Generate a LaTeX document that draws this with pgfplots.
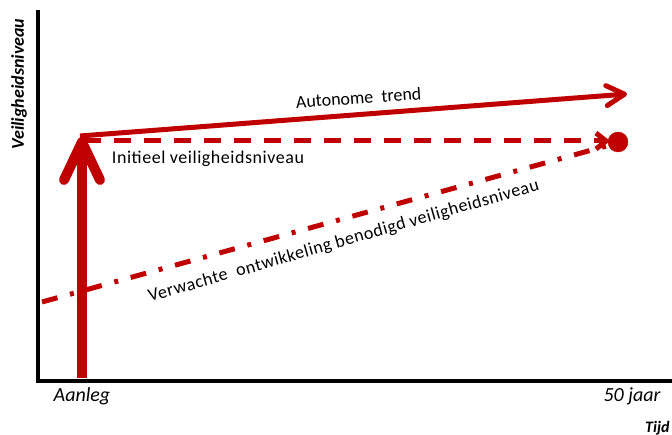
\documentclass[border=0pt]{standalone}
\usepackage{fontspec}
\setmainfont{Carlito}
\newfontfamily\spaced{Carlito}[LetterSpace=3]
\usepackage{pgfplots}
\pgfplotsset{compat=1.18}
\usetikzlibrary{arrows.meta}
\definecolor{dred}{RGB}{192,0,0}
\begin{document}
\begin{tikzpicture}[x=1pt,y=1pt]
\useasboundingbox (0,0) rectangle (672,434);
\clip (0,0) rectangle (672,434);
\begin{axis}[
  at={(38pt,53pt)}, anchor=south west,
  scale only axis, width=634pt, height=369pt,
  xmin=0, xmax=634, ymin=0, ymax=369,
  axis x line*=bottom, axis y line*=left,
  axis line style={-, line width=4pt, black, line cap=rect},
  xtick={44,594}, xticklabels={Aanleg,50 jaar},
  xticklabel style={font=\fontsize{20}{24}\selectfont\itshape, yshift=-3pt},
  ytick=\empty,
  major tick length=0pt,
  clip=false,
]
% vertical arrow (Aanleg)
\addplot[dred, line width=10pt, -{Straight Barb[length=38pt,width=36pt,round]}] coordinates {(44,3) (44,244)};
% autonome trend
\addplot[dred, line width=5pt, -{Straight Barb[length=18pt,width=20pt,round]}] coordinates {(42,245) (589,287)};
% initieel veiligheidsniveau (dashed)
\addplot[dred, line width=5pt, dash pattern=on 17pt off 13pt, -{Straight Barb[length=10pt,width=16pt]}] coordinates {(46,240) (572,240)};
% verwachte ontwikkeling (dash-dot)
\addplot[dred, line width=5pt, dash pattern=on 16pt off 13pt on 4pt off 13pt] coordinates {(4,79) (572,236)};
% end point
\addplot[dred, only marks, mark=*, mark size=10pt] coordinates {(580,239)};

\node[anchor=base, rotate=4, font=\fontsize{18}{20}\selectfont] at (axis cs:321,277) {Autonome\ \ trend};
\node[anchor=base, font=\fontsize{18}{20}\selectfont\spaced] at (axis cs:170,217) {Initieel veiligheidsniveau};
\node[anchor=base, rotate=16, font=\fontsize{18}{20}\selectfont\spaced] at (axis cs:307,135) {Verwachte\ \ ontwikkeling benodigd veiligheidsniveau};
\node[rotate=90, font=\fontsize{18}{20}\selectfont\bfseries\itshape] at (axis cs:-19,297) {Veiligheidsniveau};
\node[anchor=base west, inner sep=0pt, font=\fontsize{16}{18}\selectfont\bfseries\itshape] at (axis cs:607,-51) {Tijd};
\end{axis}
\end{tikzpicture}
\end{document}
